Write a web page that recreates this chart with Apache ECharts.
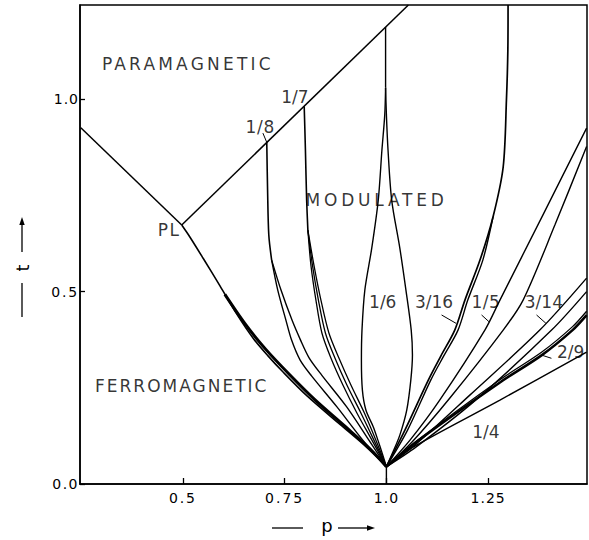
<!DOCTYPE html>
<html>
<head>
<meta charset="utf-8">
<script src="https://cdn.jsdelivr.net/npm/echarts@6/dist/echarts.min.js"></script>
<style>
html,body{margin:0;padding:0;background:#fff;}
#chart{width:589px;height:540px;}
</style>
</head>
<body>
<div id="chart"></div>
<script>
// ---- axis ticks ----
const xTicks = [0.5, 0.75, 1.0, 1.25];
const xTickLabels = ['0.5', '0.75', '1.0', '1.25'];
const yTicks = [0, 0.5, 1.0];
const yTickLabels = ['0.0', '0.5', '1.0'];

// ---- phase boundaries [p, t] ----
const leftBoundary = [[0.249,0.926],[0.497,0.673]];
const paraBoundary = [[0.497,0.673],[1.054,1.245]];
const ferroBoundary = [[0.497,0.673],[0.517,0.642],[0.550,0.586],[0.591,0.515],[0.632,0.442],[0.673,0.378],[0.709,0.333],[0.746,0.291],[0.805,0.229],[0.886,0.155],[0.951,0.096],[1.0,0.045]];
const ferroBand = [[0.603,0.493],[0.652,0.4175],[0.7015,0.3525],[0.763,0.2833],[0.824,0.2194],[0.898,0.1502],[0.9595,0.0915],[1.0,0.045]];

const eighthStem = [[0.706,0.888],[0.708,0.764],[0.711,0.647],[0.718,0.582]];
const eighthA = [[0.718,0.582],[0.733,0.504],[0.753,0.426],[0.767,0.374],[0.788,0.322],[0.816,0.281],[0.878,0.201],[0.942,0.114],[1.0,0.045]];
const eighthB = [[0.718,0.582],[0.741,0.504],[0.768,0.426],[0.789,0.374],[0.810,0.328],[0.841,0.283],[0.902,0.201],[0.957,0.114],[1.0,0.045]];

const seventhStem = [[0.798,0.982],[0.801,0.868],[0.804,0.738],[0.807,0.660]];
const seventhA = [[0.807,0.660],[0.8145,0.569],[0.8268,0.478],[0.8415,0.3925],[0.8636,0.3275],[0.8931,0.2573],[0.9275,0.1846],[0.9644,0.114],[1.0,0.045]];
const seventhB = [[0.807,0.660],[0.8182,0.569],[0.8329,0.478],[0.8501,0.3925],[0.8735,0.3275],[0.9029,0.2573],[0.9373,0.1846],[0.9693,0.114],[1.0,0.045]];
const seventhC = [[0.807,0.660],[0.8219,0.569],[0.8391,0.478],[0.8587,0.3925],[0.8833,0.3275],[0.9128,0.2573],[0.9459,0.1846],[0.9742,0.114],[1.0,0.045]];

const sixthStem = [[0.998,1.1875],[0.998,1.03]];
const sixthLeft = [[0.998,1.03],[0.996,0.96],[0.989,0.868],[0.980,0.738],[0.964,0.613],[0.947,0.504],[0.940,0.400],[0.9386,0.322],[0.941,0.244],[0.9496,0.1924],[0.9676,0.149],[0.9791,0.114],[0.9902,0.078],[1.0,0.045]];
const sixthRight = [[0.998,1.03],[1.0,0.96],[1.004,0.868],[1.013,0.738],[1.033,0.613],[1.048,0.504],[1.061,0.400],[1.064,0.335],[1.060,0.270],[1.050,0.192],[1.033,0.127],[1.016,0.083],[1.0,0.045]];
const cuspStem = [[1.0,0.045],[1.0,0]];

const sixteenthMain = [[1.299,1.245],[1.2985,1.128],[1.295,0.998],[1.287,0.824],[1.262,0.694],[1.230,0.582],[1.193,0.478],[1.168,0.400],[1.134,0.333],[1.103,0.270],[1.0455,0.140],[1.0,0.045]];
const sixteenthB = [[1.262,0.694],[1.237,0.582],[1.200,0.478],[1.176,0.400],[1.141,0.333],[1.109,0.270],[1.052,0.140],[1.0,0.045]];
const fifthA = [[1.0,0.045],[1.058,0.114],[1.131,0.218],[1.242,0.400],[1.279,0.478],[1.3845,0.699],[1.492,0.925]];
const fifthB = [[1.0,0.045],[1.063,0.109],[1.156,0.2235],[1.287,0.400],[1.336,0.478],[1.414,0.673],[1.492,0.877]];
const fourteenthA = [[1.0,0.045],[1.070,0.101],[1.205,0.231],[1.377,0.400],[1.492,0.535]];
const fourteenthB = [[1.0,0.045],[1.0725,0.096],[1.217,0.216],[1.406,0.400],[1.492,0.500]];
const ninthA = [[1.0,0.045],[1.077,0.112],[1.279,0.264],[1.382,0.335],[1.4575,0.400],[1.492,0.439]];
const ninthB = [[1.0,0.045],[1.077,0.114],[1.279,0.271],[1.382,0.343],[1.4575,0.409],[1.492,0.449]];
const quarterLine = [[1.0,0.045],[1.061,0.093],[1.279,0.218],[1.492,0.3426]];

// ---- label leaders ----
const leader8 = [[0.6965,0.912],[0.706,0.888]];
const leader316 = [[1.1356,0.4393],[1.171,0.4177]];
const leader15 = [[1.2339,0.4393],[1.252,0.4219]];
const leader314 = [[1.369,0.4393],[1.392,0.4177]];
const leader29 = [[1.3817,0.335],[1.4056,0.3267]];

// ---- text labels [text, p, t] ----
const regionLabels = [['PARAMAGNETIC',0.512,1.092],['MODULATED',0.976,0.738],['FERROMAGNETIC',0.497,0.255],['PL',0.466,0.660]];
const phaseLabels = [['1/8',0.690,0.928],['1/7',0.775,1.006],['1/6',0.991,0.473],['3/16',1.117,0.473],['1/5',1.2445,0.473],['3/14',1.387,0.473],['2/9',1.453,0.343],['1/4',1.2445,0.135]];

const spacing = {'PARAMAGNETIC':3.2,'MODULATED':3.8,'FERROMAGNETIC':2,'PL':1.5,'0.0':1.5,'0.5':1.8,'0.75':2,'1.0':1,'1.25':1,'1/8':0.8,'1/5':0.5};

const FONT = 'DejaVu Sans';

function curve(data, width, smooth) {
  return {type:'line', data:data, symbol:'none', smooth: smooth ? 0.3 : false,
    lineStyle:{color:'#000', width:width}, silent:true, animation:false};
}
function textSeries(list, size) {
  return {type:'scatter', symbolSize:1, itemStyle:{color:'transparent'}, silent:true, animation:false,
    data:list.map(d => ({name:d[0], value:[d[1], d[2]]})),
    label:{show:true, position:'inside', formatter:'{b}', color:'#000', fontSize:size, fontFamily:FONT}};
}

const chart = echarts.init(document.getElementById('chart'), null, {renderer:'svg'});
chart.setOption({
  animation:false,
  backgroundColor:'#fff',
  grid:{left:80, right:2, top:5, bottom:56, show:true, borderColor:'#000', borderWidth:1.5, containLabel:false, outerBoundsMode:'none'},
  xAxis:{type:'value', min:0.247, max:1.493,
    axisLine:{show:true, lineStyle:{color:'#000', width:1.5}},
    axisTick:{show:true, inside:true, length:6, customValues:xTicks, lineStyle:{color:'#000', width:1.3}},
    axisLabel:{show:true, customValues:xTicks, margin:7, color:'#000', fontSize:14, fontFamily:FONT,
      formatter:v => { const i = xTicks.findIndex(x => Math.abs(x - v) < 1e-6); return i >= 0 ? xTickLabels[i] : ''; }},
    splitLine:{show:false}},
  yAxis:{type:'value', min:0, max:1.245,
    axisLine:{show:true, lineStyle:{color:'#000', width:1.5}},
    axisTick:{show:true, inside:true, length:5, customValues:yTicks, lineStyle:{color:'#000', width:1.3}},
    axisLabel:{show:true, customValues:yTicks, margin:1, color:'#000', fontSize:14, fontFamily:FONT,
      formatter:v => { const i = yTicks.findIndex(x => Math.abs(x - v) < 1e-6); return i >= 0 ? yTickLabels[i] : ''; }},
    splitLine:{show:false}},
  series:[
    curve(leftBoundary, 1.5, false),
    curve(paraBoundary, 1.5, false),
    curve(ferroBoundary, 1.6, true),
    curve(ferroBand, 3, true),
    curve(eighthStem, 1.6, true),
    curve(eighthA, 1.4, true),
    curve(eighthB, 1.4, true),
    curve(seventhStem, 1.6, true),
    curve(seventhA, 1.3, true),
    curve(seventhB, 1.3, true),
    curve(seventhC, 1.3, true),
    curve(sixthStem, 1.4, false),
    curve(sixthLeft, 1.4, true),
    curve(sixthRight, 1.4, true),
    curve(cuspStem, 1.4, false),
    curve(sixteenthMain, 1.7, true),
    curve(sixteenthB, 1.4, true),
    curve(fifthA, 1.4, true),
    curve(fifthB, 1.4, true),
    curve(fourteenthA, 1.4, true),
    curve(fourteenthB, 1.4, true),
    curve(ninthA, 2.5, true),
    curve(ninthB, 1.3, true),
    curve(quarterLine, 1.4, true),
    curve(leader8, 1, false),
    curve(leader316, 1, false),
    curve(leader15, 1, false),
    curve(leader314, 1, false),
    curve(leader29, 1, false),
    textSeries(regionLabels, 17),
    textSeries(phaseLabels, 17)
  ],
  graphic:[
    {type:'line', shape:{x1:272, y1:528, x2:303, y2:528}, style:{stroke:'#000', lineWidth:1.3}},
    {type:'text', x:327, y:525, style:{text:'p', font:'18px "DejaVu Sans"', fill:'#000', textAlign:'center', textVerticalAlign:'middle'}},
    {type:'line', shape:{x1:338, y1:528, x2:369, y2:528}, style:{stroke:'#000', lineWidth:1.3}},
    {type:'polygon', shape:{points:[[375,528],[367,525.3],[367,530.7]]}, style:{fill:'#000'}},
    {type:'line', shape:{x1:22, y1:317, x2:22, y2:283}, style:{stroke:'#000', lineWidth:1.3}},
    {type:'text', x:22, y:268, rotation:Math.PI/2, style:{text:'t', font:'18px "DejaVu Sans"', fill:'#000', textAlign:'center', textVerticalAlign:'middle'}},
    {type:'line', shape:{x1:22, y1:252, x2:22, y2:223}, style:{stroke:'#000', lineWidth:1.3}},
    {type:'polygon', shape:{points:[[22,217],[19.3,225],[24.7,225]]}, style:{fill:'#000'}}
  ]
});

function applySpacing() {
  document.querySelectorAll('#chart text').forEach(t => {
    const s = spacing[t.textContent];
    if (s != null) t.style.letterSpacing = s + 'px';
  });
}
applySpacing();
chart.on('finished', applySpacing);
setTimeout(applySpacing, 50);
</script>
</body>
</html>
